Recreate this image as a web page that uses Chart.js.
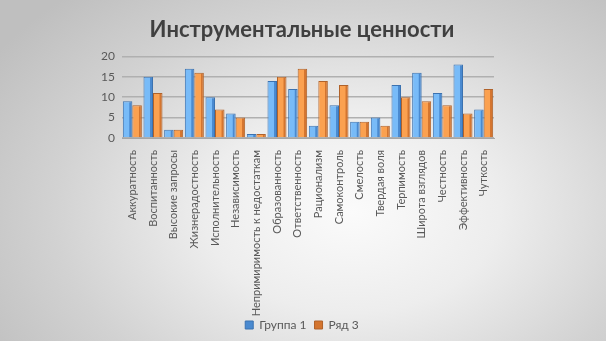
<!DOCTYPE html>
<html>
<head>
<meta charset="utf-8">
<script src="https://cdn.jsdelivr.net/npm/chart.js@4/dist/chart.umd.min.js"></script>
<style>
  html, body { margin: 0; padding: 0; }
  body {
    width: 606px; height: 341px; overflow: hidden;
    background: radial-gradient(ellipse 70% 85% at 58% 62%, #fbfbfb 0%, #ededed 35%, #d2d2d2 70%, #bfbfbf 100%);
  }
  #wrap { position: relative; width: 606px; height: 341px; }
</style>
</head>
<body>
<div id="wrap"><canvas id="chart" width="606" height="341"></canvas></div>
<script>
// категории и значения
const categories = [
  "Аккуратность", "Воспитанность", "Высокие запросы", "Жизнерадостность",
  "Исполнительность", "Независимость", "Непримиримость к недостаткам",
  "Образованность", "Ответственность", "Рационализм", "Самоконтроль",
  "Смелость", "Твердая воля", "Терпимость", "Широта взглядов",
  "Честность", "Эффективность", "Чуткость"
];
const group1 = [9, 15, 2, 17, 10, 6, 1, 14, 12, 3, 8, 4, 5, 13, 16, 11, 18, 7];
const row3   = [8, 11, 2, 16, 7, 5, 1, 15, 17, 14, 13, 4, 3, 10, 9, 8, 6, 12];
const yTicks = [0, 5, 10, 15, 20];

const textColor = "#595959";
const catPct = 0.92;

// горизонтальный градиент для столбиков (объёмный вид), положение берём из шкалы x
function barGradient(ctx, side, light, dark) {
  const xs = ctx.chart.scales && ctx.chart.scales.x;
  if (!xs || ctx.dataIndex === undefined || !xs.width) return light;
  const center = xs.getPixelForValue(ctx.dataIndex);
  const w = xs.width / categories.length * catPct / 2;
  const x0 = side === 0 ? center - w : center;
  const g = ctx.chart.ctx.createLinearGradient(x0, 0, x0 + w, 0);
  g.addColorStop(0, light);
  g.addColorStop(0.65, light);
  g.addColorStop(0.72, dark);
  g.addColorStop(1, dark);
  return g;
}

// подписи осей не обрезаем по краю блока шкалы
const noLabelClip = {
  id: "noLabelClip",
  afterLayout(chart) {
    chart.scales.x.bottom = chart.height;
    chart.scales.y.left = 0;
  }
};

new Chart(document.getElementById("chart"), {
  type: "bar",
  data: {
    labels: categories,
    datasets: [
      {
        label: "Группа 1",
        data: group1,
        backgroundColor: ctx => barGradient(ctx, 0, "#78bbf8", "#4a8ad0"),
        borderColor: "#3b72b0",
        borderWidth: 1
      },
      {
        label: "Ряд 3",
        data: row3,
        backgroundColor: ctx => barGradient(ctx, 1, "#fba150", "#d4752f"),
        borderColor: "#b0622a",
        borderWidth: 1
      }
    ]
  },
  plugins: [noLabelClip],
  options: {
    responsive: false,
    animation: false,
    layout: { padding: { left: 110, right: 112, top: 8, bottom: 0 } },
    datasets: { bar: { categoryPercentage: catPct, barPercentage: 1.0 } },
    plugins: {
      title: {
        display: true,
        text: "Инструментальные ценности",
        color: "#404040",
        font: { family: "Lato", size: 22, weight: "bold" },
        padding: { top: 9, bottom: 13 }
      },
      legend: {
        position: "bottom",
        labels: {
          color: textColor,
          font: { family: "Lato", size: 12 },
          boxWidth: 8, boxHeight: 8, padding: 8
        }
      },
      tooltip: { enabled: false }
    },
    scales: {
      x: {
        grid: { display: false },
        border: { display: true, color: "#a6a6a6" },
        afterFit: scale => { scale.height = 173; },
        ticks: {
          color: textColor,
          font: { family: "Lato", size: 11 },
          minRotation: 90, maxRotation: 90, autoSkip: false, padding: 4
        }
      },
      y: {
        min: 0, max: 20,
        afterBuildTicks: axis => { axis.ticks = yTicks.map(v => ({ value: v })); },
        afterFit: scale => { scale.width = 12; },
        grid: { color: "#b0b0b0", lineWidth: 1.5, drawTicks: false },
        border: { display: false },
        ticks: {
          color: textColor,
          font: { family: "Lato", size: 12 },
          padding: 7
        }
      }
    }
  }
});
</script>
</body>
</html>
